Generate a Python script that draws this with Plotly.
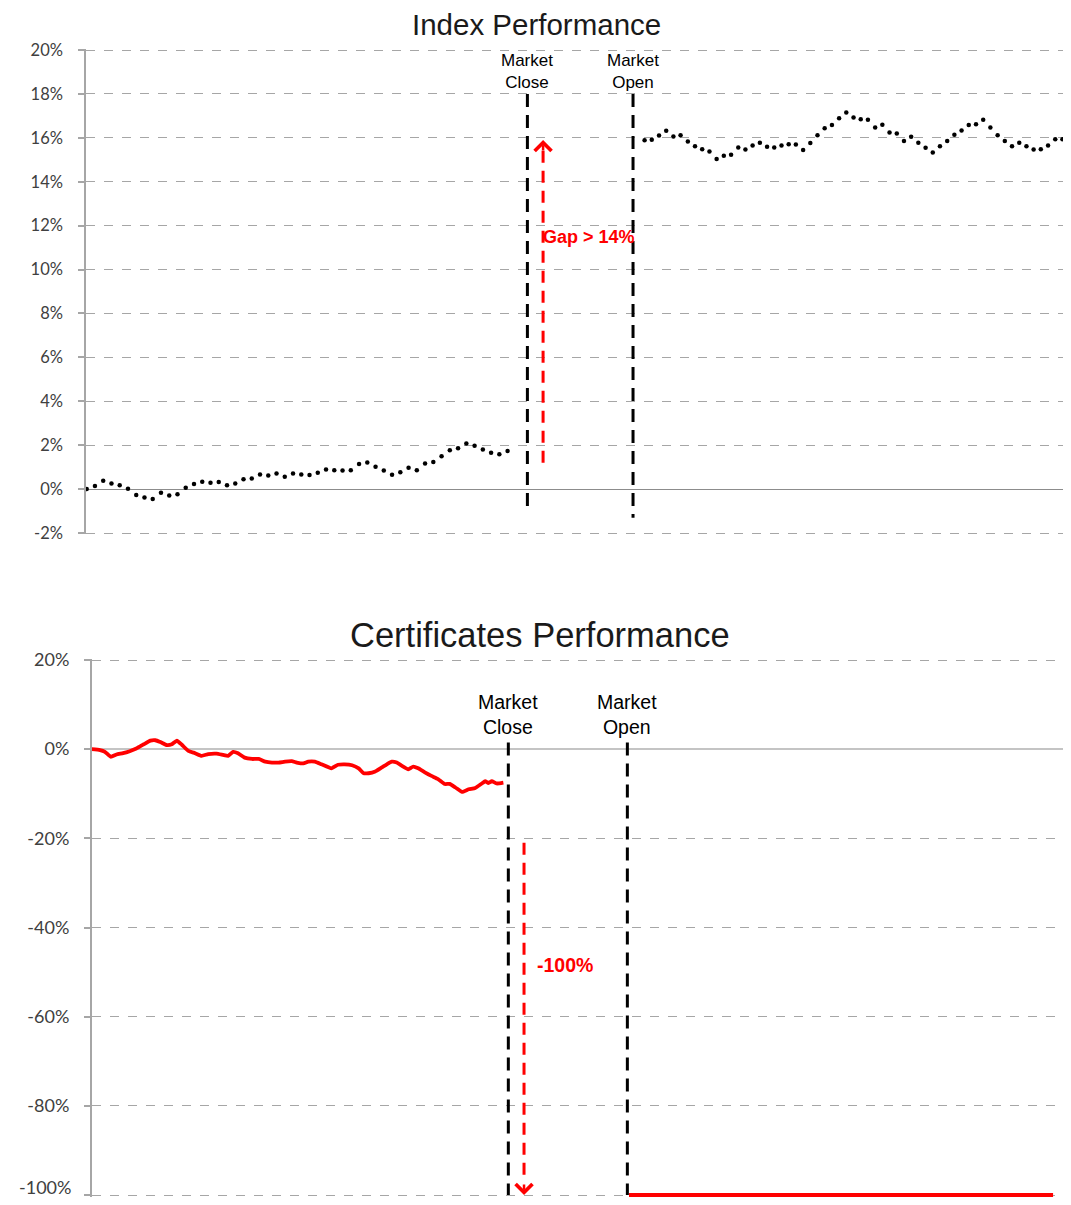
import plotly.graph_objects as go

# ---------------- DATA ----------------
# Index performance (%), dotted series before market close and after market open
index_pre = [0.00, 0.14, 0.38, 0.26, 0.17, 0.02, -0.27, -0.38, -0.45, -0.17,
             -0.29, -0.24, 0.06, 0.23, 0.33, 0.29, 0.32, 0.18, 0.26, 0.45,
             0.48, 0.67, 0.62, 0.71, 0.56, 0.71, 0.67, 0.64, 0.74, 0.89,
             0.86, 0.85, 0.86, 1.14, 1.21, 1.02, 0.85, 0.65, 0.77, 0.97,
             0.86, 1.17, 1.23, 1.50, 1.77, 1.86, 2.08, 1.97, 1.80, 1.65,
             1.59, 1.74]
index_post = [15.89, 15.91, 16.11, 16.32, 16.06, 16.12, 15.83, 15.62, 15.48, 15.38,
              15.03, 15.18, 15.23, 15.56, 15.47, 15.65, 15.77, 15.59, 15.56, 15.65,
              15.71, 15.70, 15.45, 15.76, 16.12, 16.44, 16.58, 16.89, 17.15, 16.92,
              16.85, 16.82, 16.47, 16.59, 16.24, 16.20, 15.85, 16.05, 15.77, 15.55,
              15.33, 15.62, 15.85, 16.14, 16.33, 16.58, 16.62, 16.82, 16.47, 16.12,
              15.86, 15.62, 15.77, 15.62, 15.47, 15.48, 15.65, 15.94, 15.94, 16.30]
index_t_pre = list(range(len(index_pre)))
index_t_post = [round(67.6 + 0.873 * i, 2) for i in range(len(index_post))]

# Certificates performance (%)
cert_t = [0, 1.0, 1.6, 2.3, 3.0, 3.8, 4.6, 5.4, 6.3, 7.1, 7.7, 8.3, 9.1, 9.7,
          10.3, 10.9, 11.7, 12.5, 13.3, 14.1, 15.1, 15.9, 16.5, 17.1, 17.7,
          18.5, 19.4, 20.2, 21.0, 21.8, 22.6, 23.4, 24.2, 24.8, 25.6, 26.2,
          27.0, 27.8, 29.0, 29.8, 30.6, 31.5, 32.3, 32.9, 33.5, 34.3, 35.1,
          35.7, 36.3, 36.9, 37.5, 38.3, 38.9, 39.5, 40.3, 41.1, 41.9, 42.7,
          43.3, 44.0, 44.8, 45.6, 46.4, 47.2, 47.6, 48.0, 48.4, 49.0, 49.8]
cert_vals = [0, -0.2, -0.6, -1.7, -1.2, -0.9, -0.45, 0.15, 1.1, 1.9, 2.0, 1.6,
             0.9, 1.1, 1.9, 1.0, -0.4, -0.9, -1.5, -1.1, -1.0, -1.3, -1.5, -0.6,
             -0.9, -1.9, -2.2, -2.2, -2.8, -3.0, -3.0, -2.8, -2.7, -3.0, -3.2,
             -2.8, -2.8, -3.4, -4.3, -3.5, -3.4, -3.6, -4.3, -5.4, -5.4, -5.0,
             -4.1, -3.4, -2.8, -3.0, -3.7, -4.5, -3.9, -4.3, -5.2, -6.0, -6.7,
             -7.8, -7.8, -8.6, -9.6, -9.0, -8.7, -7.7, -7.2, -7.6, -7.2, -7.7, -7.5]
cert_t_after = [65.0, 116.3]
cert_vals_after = [-100, -100]

top_tickvals = [-2, 0, 2, 4, 6, 8, 10, 12, 14, 16, 18, 20]
top_ticktext = ["-2%", "0%", "2%", "4%", "6%", "8%", "10%", "12%", "14%", "16%", "18%", "20%"]
bot_tickvals = [-100, -80, -60, -40, -20, 0, 20]
bot_ticktext = ["-100%", "-80%", "-60%", "-40%", "-20%", "0%", "20%"]

# event positions (time axis units)
top_close_t, top_open_t, top_gap_t = 53.4, 66.2, 55.3
bot_close_t, bot_open_t, bot_gap_t = 50.4, 64.8, 52.3

# page body has an 8px margin: figure is sized to fit the window exactly
OFF = 8
W, H = 1071 - 2 * OFF, 1205 - 2 * OFF
RED = "#ff0000"
GRID = "#a6a6a6"
TICKFONT = "Lato"
ARIAL = "Liberation Sans, Arial"


def fx(px):
    return min(1.0, max(0.0, (px - OFF) / W))


def fy(px):
    return min(1.0, max(0.0, 1 - (px - OFF) / H))


fig = go.Figure()

# --- top chart ---
fig.add_trace(go.Scatter(x=index_t_pre, y=index_pre, mode="markers",
                         marker=dict(color="black", size=4.5), xaxis="x", yaxis="y",
                         showlegend=False, hoverinfo="skip"))
fig.add_trace(go.Scatter(x=index_t_post, y=index_post, mode="markers",
                         marker=dict(color="black", size=4.5), xaxis="x", yaxis="y",
                         showlegend=False, hoverinfo="skip"))
fig.add_trace(go.Scatter(x=[top_gap_t, top_gap_t], y=[1.2, 15.5], mode="lines",
                         line=dict(color=RED, width=3, dash="12px,8px"), xaxis="x", yaxis="y",
                         showlegend=False, hoverinfo="skip"))

# --- bottom chart ---
fig.add_trace(go.Scatter(x=cert_t, y=cert_vals, mode="lines",
                         line=dict(color=RED, width=3.8, shape="spline", smoothing=0.4),
                         xaxis="x2", yaxis="y2", showlegend=False, hoverinfo="skip"))
fig.add_trace(go.Scatter(x=cert_t_after, y=cert_vals_after, mode="lines",
                         line=dict(color=RED, width=4), xaxis="x2", yaxis="y2",
                         showlegend=False, hoverinfo="skip"))
fig.add_trace(go.Scatter(x=[bot_gap_t, bot_gap_t], y=[-21, -97], mode="lines",
                         line=dict(color=RED, width=3, dash="12px,8px"), xaxis="x2", yaxis="y2",
                         showlegend=False, hoverinfo="skip"))

shapes = []
for t, y0, y1 in [(top_close_t, 18, -1.0), (top_open_t, 18, -1.3)]:
    shapes.append(dict(type="line", xref="x", yref="y", x0=t, x1=t, y0=y0, y1=y1,
                       line=dict(color="black", width=3, dash="13px,8px")))
for t in [bot_close_t, bot_open_t]:
    shapes.append(dict(type="line", xref="x2", yref="y2", x0=t, x1=t, y0=1.5, y1=-100,
                       line=dict(color="black", width=3, dash="13px,8px")))

annotations = [
    dict(text="Index Performance", x=fx(536), y=fy(25), xref="paper", yref="paper",
         showarrow=False, font=dict(family=ARIAL, size=29.5, color="#1a1a1a"),
         xanchor="center", yanchor="middle"),
    dict(text="Certificates Performance", x=fx(540), y=fy(635), xref="paper", yref="paper",
         showarrow=False, font=dict(family=ARIAL, size=34.5, color="#1a1a1a"),
         xanchor="center", yanchor="middle"),
    dict(text="Market<br>Close", x=top_close_t, y=19.0, xref="x", yref="y", showarrow=False,
         font=dict(family=ARIAL, size=17, color="black"), xanchor="center", yanchor="middle"),
    dict(text="Market<br>Open", x=top_open_t, y=19.0, xref="x", yref="y", showarrow=False,
         font=dict(family=ARIAL, size=17, color="black"), xanchor="center", yanchor="middle"),
    dict(text="Market<br>Close", x=bot_close_t, y=7.8, xref="x2", yref="y2", showarrow=False,
         font=dict(family=ARIAL, size=19.5, color="black"), xanchor="center", yanchor="middle"),
    dict(text="Market<br>Open", x=bot_open_t, y=7.8, xref="x2", yref="y2", showarrow=False,
         font=dict(family=ARIAL, size=19.5, color="black"), xanchor="center", yanchor="middle"),
    dict(text="<b>Gap > 14%</b>", x=top_gap_t - 0.25, y=11.5, xref="x", yref="y", showarrow=False,
         font=dict(family=ARIAL, size=18, color=RED), xanchor="left", yanchor="middle"),
    dict(text="<b>-100%</b>", x=53.6, y=-48.4, xref="x2", yref="y2", showarrow=False,
         font=dict(family=ARIAL, size=19.5, color=RED), xanchor="left", yanchor="middle"),
    # bottom-most tick label (the axis hides it because it touches the page edge)
    dict(text=bot_ticktext[0], x=fx(91.7), y=bot_tickvals[0], xref="paper", yref="y2",
         showarrow=False, font=dict(family=TICKFONT, size=18, color="#404040"),
         xanchor="right", yanchor="middle", xshift=-19, yshift=8),
    # arrow heads
    dict(text="", x=top_gap_t, y=15.9, xref="x", yref="y", showarrow=True, ax=0, ay=12,
         arrowhead=4, arrowsize=1.3, arrowwidth=2.5, arrowcolor=RED),
    dict(text="", x=bot_gap_t, y=-100, xref="x2", yref="y2", showarrow=True, ax=0, ay=-12,
         arrowhead=4, arrowsize=1.3, arrowwidth=2.5, arrowcolor=RED),
]

yaxis_common = dict(showgrid=True, gridcolor=GRID, griddash="dash", gridwidth=1,
                    showline=True, linecolor=GRID, linewidth=1.5,
                    ticks="outside", ticklen=6, tickcolor=GRID, tickwidth=1.5,
                    tickmode="array", automargin=False, ticklabeloverflow="hide past div")

# pixel geometry of plot areas (window pixels)
TOP_PX_PER = 21.95      # px per 1% (top chart)
BOT_PX_PER = 4.458      # px per 1% (bottom chart)
top_y0_px, top_y1_px = 50 - 0.05 * TOP_PX_PER, 533 + 0.05 * TOP_PX_PER
bot_y0_px, bot_y1_px = 660 - 0.3 * BOT_PX_PER, 1205 - OFF
bot_range_low = -100 - (bot_y1_px - 1195) / BOT_PX_PER

fig.update_layout(
    width=W, height=H,
    margin=dict(l=0, r=0, t=0, b=0, pad=0, autoexpand=False),
    paper_bgcolor="white", plot_bgcolor="white",
    showlegend=False,
    xaxis=dict(domain=[fx(86), 1], range=[-0.085, 118.3], visible=False, automargin=False),
    yaxis=dict(domain=[fy(top_y1_px), fy(top_y0_px)], range=[-2.05, 20.05],
               tickvals=top_tickvals, ticktext=top_ticktext,
               tickfont=dict(family=TICKFONT, size=16.5, color="#404040"),
               ticklabelstandoff=12,
               zeroline=True, zerolinecolor="#8c8c8c", zerolinewidth=1.2,
               **yaxis_common),
    xaxis2=dict(domain=[fx(91.7), 1], range=[0, 117.5], visible=False, anchor="y2",
                automargin=False),
    yaxis2=dict(domain=[fy(bot_y1_px), fy(bot_y0_px)], range=[bot_range_low, 20.3], anchor="x2",
                tickvals=bot_tickvals, ticktext=bot_ticktext,
                tickfont=dict(family=TICKFONT, size=18, color="#404040"),
                ticklabelstandoff=11,
                zeroline=True, zerolinecolor="#c4c4c4", zerolinewidth=2.2,
                **yaxis_common),
    shapes=shapes,
    annotations=annotations,
)

fig.write_html("out.html")
